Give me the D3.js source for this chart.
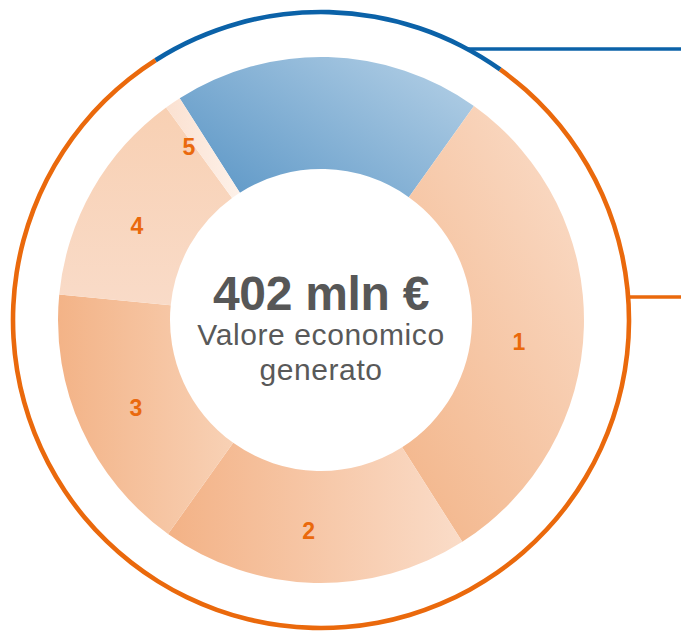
<!DOCTYPE html>
<html>
<head>
<meta charset="utf-8">
<script src="https://cdn.jsdelivr.net/npm/d3@7"></script>
<style>
    body { margin: 0; background: white; }
    svg { display: block; }
    .sliceLabel { font-family: "Liberation Sans", Arial, sans-serif; font-weight: bold; }
    .centerText { font-family: "Liberation Sans", Arial, sans-serif; }
</style>
</head>
<body>
<div id="donut"></div>
<script>
// slice 0 is the blue (retained) part, 1-5 the distributed parts, mln €
const sliceNames = ["", "1", "2", "3", "4", "5"];
const sliceValues = [76, 125, 76, 67, 54, 4];
const totalLabel = "402 mln €";
const subtitleLines = ["Valore economico", "generato"];

function renderDonut () {
    const wSvg = 681;
    const hSvg = 631;
    const cx = 321;
    const cy = 320;
    const rOuter = 263;
    const rInner = 151;
    const rRing = 308;
    const startDeg = -32.5;

    const orange = "#ea690c";
    const blue = "#0b62a8";

    let gradients = [
        { stops: ["#5e98c7", "#b1cee5"], x1: 0, y1: 0.85, x2: 1, y2: 0.15 },
        { stops: ["#fadcc8", "#f3b68b"], x1: 0.9, y1: 0, x2: 0.1, y2: 1 },
        { stops: ["#f3b286", "#fadcc8"], x1: 0, y1: 0, x2: 1, y2: 0 },
        { stops: ["#f3b387", "#f8d1b5"], x1: 0, y1: 0, x2: 1, y2: 0 },
        { stops: ["#f8d0b3", "#f9dbc8"], x1: 0, y1: 0, x2: 0, y2: 1 },
        { stops: ["#fbe1d1", "#fdf1e9"], x1: 0, y1: 0, x2: 1, y2: 0 }
    ];

    // hand placement of the number labels: angle shift (deg) and radius
    let labelNudge = [null, [4.8, 199], [1.8, 211], [-1, 205], [-2.6, 207], [-1.2, 218]];

    let svg = d3.select("#donut")
        .append("svg")
        .attr("width", wSvg)
        .attr("height", hSvg);

    let defs = svg.append("defs");
    gradients.forEach((g, i) => {
        let lg = defs.append("linearGradient")
            .attr("id", "grad" + i)
            .attr("x1", g.x1).attr("y1", g.y1)
            .attr("x2", g.x2).attr("y2", g.y2);
        lg.append("stop").attr("offset", "0%").attr("stop-color", g.stops[0]);
        lg.append("stop").attr("offset", "100%").attr("stop-color", g.stops[1]);
    });

    let start = startDeg * Math.PI / 180;
    let pie = d3.pie()
        .sort(null)
        .value(d => d)
        .startAngle(start)
        .endAngle(start + 2 * Math.PI);
    let arcs = pie(sliceValues);

    let arc = d3.arc().innerRadius(rInner).outerRadius(rOuter);

    let g = svg.append("g").attr("transform", `translate(${cx}, ${cy})`);

    // outer ring: blue over the retained part, orange elsewhere
    let ringArc = d3.arc().innerRadius(rRing - 2.3).outerRadius(rRing + 2.3);
    let blueArc = arcs[0];
    g.append("path")
        .attr("d", ringArc({ startAngle: blueArc.endAngle, endAngle: blueArc.startAngle + 2 * Math.PI }))
        .attr("fill", orange);
    g.append("path")
        .attr("d", ringArc({ startAngle: blueArc.startAngle, endAngle: blueArc.endAngle }))
        .attr("fill", blue);

    // leader lines to the right edge
    let yBlue = -271;
    let yOrange = -23;
    g.append("line")
        .attr("x1", Math.sqrt(rRing * rRing - yBlue * yBlue))
        .attr("x2", wSvg - cx)
        .attr("y1", yBlue).attr("y2", yBlue)
        .attr("stroke", blue)
        .attr("stroke-width", 3.5);
    g.append("line")
        .attr("x1", Math.sqrt(rRing * rRing - yOrange * yOrange))
        .attr("x2", wSvg - cx)
        .attr("y1", yOrange).attr("y2", yOrange)
        .attr("stroke", orange)
        .attr("stroke-width", 3.5);

    g.selectAll("path.slice")
        .data(arcs)
        .enter()
        .append("path")
        .attr("class", "slice")
        .attr("d", arc)
        .attr("fill", (d, i) => `url(#grad${i})`);

    g.selectAll("text.sliceLabel")
        .data(arcs.filter((d, i) => sliceNames[i] != ""))
        .enter()
        .append("text")
        .attr("class", "sliceLabel")
        .attr("transform", d => {
            let nudge = labelNudge[d.index];
            let a;
            if (d.endAngle - d.startAngle < 0.2) {
                // tiny slice: label sits beside it
                a = d.startAngle + nudge[0] * Math.PI / 180;
            } else {
                a = (d.startAngle + d.endAngle) / 2 + nudge[0] * Math.PI / 180;
            }
            let r = nudge[1];
            return `translate(${Math.sin(a) * r}, ${-Math.cos(a) * r})`;
        })
        .attr("text-anchor", "middle")
        .attr("dy", "0.36em")
        .attr("font-size", 23)
        .attr("fill", orange)
        .text(d => sliceNames[d.index]);

    g.append("text")
        .attr("class", "centerText")
        .attr("x", 0)
        .attr("y", -10)
        .attr("text-anchor", "middle")
        .attr("font-size", 48)
        .attr("font-weight", "bold")
        .attr("letter-spacing", -0.3)
        .attr("fill", "#575757")
        .text(totalLabel);

    g.selectAll("text.sub")
        .data(subtitleLines)
        .enter()
        .append("text")
        .attr("class", "centerText sub")
        .attr("x", 0)
        .attr("y", (d, i) => 25 + i * 35)
        .attr("text-anchor", "middle")
        .attr("font-size", 30)
        .attr("letter-spacing", 0.6)
        .attr("fill", "#595959")
        .text(d => d);
}

renderDonut();
</script>
</body>
</html>
